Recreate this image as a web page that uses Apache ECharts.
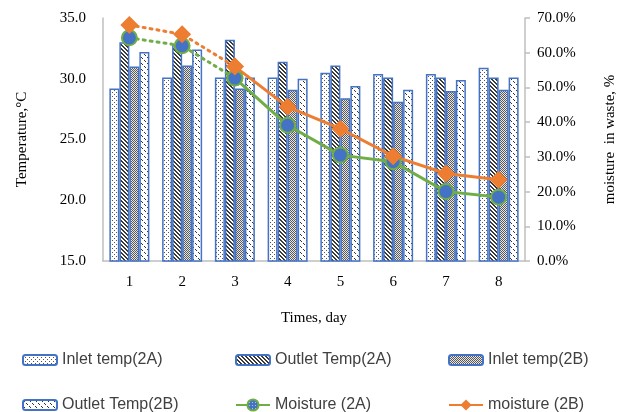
<!DOCTYPE html>
<html>
<head>
<meta charset="utf-8">
<script src="https://cdn.jsdelivr.net/npm/echarts@6/dist/echarts.min.js"></script>
<style>
  html, body { margin: 0; padding: 0; background: #fff; }
  #chart { width: 626px; height: 412px; }
</style>
</head>
<body>
<div id="chart"></div>
<script>
const days = ['1', '2', '3', '4', '5', '6', '7', '8']
const inlet2A = [29.2, 30.1, 30.1, 30.1, 30.5, 30.4, 30.4, 30.9]
const outlet2A = [33.0, 32.8, 33.2, 31.4, 31.1, 30.1, 30.1, 30.1]
const inlet2B = [31.0, 31.1, 29.2, 29.1, 28.4, 28.1, 29.0, 29.1]
const outlet2B = [32.2, 32.4, 30.1, 30.0, 29.4, 29.1, 29.9, 30.1]
const moisture2A = [64.3, 62.0, 52.7, 39.1, 30.5, 28.6, 20.0, 18.4]
const moisture2B = [68.0, 65.3, 56.0, 44.4, 38.1, 30.2, 25.2, 23.4]
const tempTicks = { min: 15, max: 35, interval: 5 }
const moistTicks = { min: 0, max: 70, interval: 10 }

// first two steps are drawn dotted, the rest solid
const dottedPart = (arr) => arr.map((v, i) => (i <= 2 ? v : null))
const solidPart = (arr) => arr.map((v, i) => (i >= 2 ? v : null))

const pattern = (w, h, bg, fg, pixels) => {
  const c = document.createElement('canvas')
  c.width = w
  c.height = h
  const ctx = c.getContext('2d')
  ctx.fillStyle = bg
  ctx.fillRect(0, 0, w, h)
  ctx.fillStyle = fg
  pixels.forEach(([x, y]) => ctx.fillRect(x, y, 1, 1))
  return { image: c, repeat: 'repeat' }
}

const dotsLight = pattern(4, 4, '#ffffff', '#555555', [[0, 0], [2, 2]])
const hatch = pattern(4, 4, '#ffffff', '#3a3a3a', [[0, 0], [1, 1], [2, 2], [3, 3], [1, 0], [2, 1], [3, 2], [0, 3]])
const dotsDense = pattern(2, 2, '#e6e6e6', '#5a5a5a', [[0, 0], [1, 1]])
const dashes = pattern(6, 6, '#ffffff', '#333333', [[0, 0], [1, 1], [2, 2], [3, 3], [4, 4], [5, 5]].filter((p, i) => i % 3 !== 2))
const blueDots = pattern(3, 3, '#4472c4', '#a9c4ea', [[1, 1]])

const BLUE = '#4472c4'
const GREEN = '#70ad47'
const ORANGE = '#ed7d31'
const serif = 'Liberation Serif'
const sans = 'Liberation Sans'

const barSeries = (name, data, fill) => ({
  name,
  type: 'bar',
  data,
  barWidth: 10,
  barGap: '0%',
  itemStyle: { color: fill, borderColor: BLUE, borderWidth: 1.5 }
})

const legendAt = (name, left, top, h) => ({
  data: [name],
  left,
  top,
  padding: 0,
  itemWidth: 34,
  itemHeight: h || 10,
  selectedMode: false,
  textStyle: { fontFamily: sans, fontSize: 16, color: '#404040' }
})

const chart = echarts.init(document.getElementById('chart'))
chart.setOption({
  backgroundColor: '#fff',
  animation: false,
  grid: { left: 103, right: 99, top: 18, bottom: 151 },
  legend: [
    legendAt('Inlet temp(2A)', 22, 352),
    legendAt('Outlet Temp(2A)', 235, 352),
    legendAt('Inlet temp(2B)', 448, 352),
    legendAt('Outlet Temp(2B)', 22, 397),
    legendAt('Moisture (2A)', 235, 397, 14),
    legendAt('moisture (2B)', 448, 397, 14)
  ],
  xAxis: {
    type: 'category',
    data: days,
    name: 'Times, day',
    nameLocation: 'middle',
    nameGap: 50,
    nameTextStyle: { fontFamily: serif, fontSize: 15, color: '#000' },
    axisLine: { lineStyle: { color: '#bfbfbf', width: 1.5 } },
    axisTick: { show: false },
    axisLabel: { fontFamily: serif, fontSize: 15, color: '#000', margin: 14 }
  },
  yAxis: [
    {
      type: 'value',
      ...tempTicks,
      name: 'Temperature,°C',
      nameLocation: 'middle',
      nameRotate: 90,
      nameGap: 73,
      nameTextStyle: { fontFamily: serif, fontSize: 15, color: '#000' },
      axisLine: { show: true, lineStyle: { color: '#bfbfbf', width: 1.5 } },
      axisTick: { show: false },
      splitLine: { show: false },
      axisLabel: { fontFamily: serif, fontSize: 15, color: '#000', margin: 17, formatter: (v) => v.toFixed(1) }
    },
    {
      type: 'value',
      ...moistTicks,
      position: 'right',
      name: 'moisture  in waste, %',
      nameLocation: 'middle',
      nameRotate: 90,
      nameGap: 78,
      nameTextStyle: { fontFamily: serif, fontSize: 15, color: '#000' },
      axisLine: { show: true, lineStyle: { color: '#bfbfbf', width: 1.5 } },
      axisTick: { show: true, length: 5, lineStyle: { color: '#bfbfbf', width: 1.5 } },
      splitLine: { show: false },
      axisLabel: { fontFamily: serif, fontSize: 15, color: '#000', margin: 12, formatter: (v) => v.toFixed(1) + '%' }
    }
  ],
  series: [
    barSeries('Inlet temp(2A)', inlet2A, dotsLight),
    barSeries('Outlet Temp(2A)', outlet2A, hatch),
    barSeries('Inlet temp(2B)', inlet2B, dotsDense),
    barSeries('Outlet Temp(2B)', outlet2B, dashes),
    {
      name: 'Moisture (2A) dotted',
      type: 'line',
      yAxisIndex: 1,
      data: dottedPart(moisture2A),
      z: 3,
      symbol: 'circle',
      symbolSize: 15,
      lineStyle: { color: GREEN, width: 3, type: [2, 5], cap: 'round' },
      itemStyle: { color: blueDots, borderColor: GREEN, borderWidth: 2 }
    },
    {
      name: 'moisture (2B) dotted',
      type: 'line',
      yAxisIndex: 1,
      data: dottedPart(moisture2B),
      z: 3,
      symbol: 'diamond',
      symbolSize: 18,
      lineStyle: { color: ORANGE, width: 3, type: [2, 5], cap: 'round' },
      itemStyle: { color: ORANGE }
    },
    {
      name: 'Moisture (2A)',
      type: 'line',
      yAxisIndex: 1,
      data: solidPart(moisture2A),
      z: 4,
      symbol: 'circle',
      symbolSize: 15,
      lineStyle: { color: GREEN, width: 3 },
      itemStyle: { color: blueDots, borderColor: GREEN, borderWidth: 2 }
    },
    {
      name: 'moisture (2B)',
      type: 'line',
      yAxisIndex: 1,
      data: solidPart(moisture2B),
      z: 4,
      symbol: 'diamond',
      symbolSize: 18,
      lineStyle: { color: ORANGE, width: 3 },
      itemStyle: { color: ORANGE }
    }
  ]
})
</script>
</body>
</html>
